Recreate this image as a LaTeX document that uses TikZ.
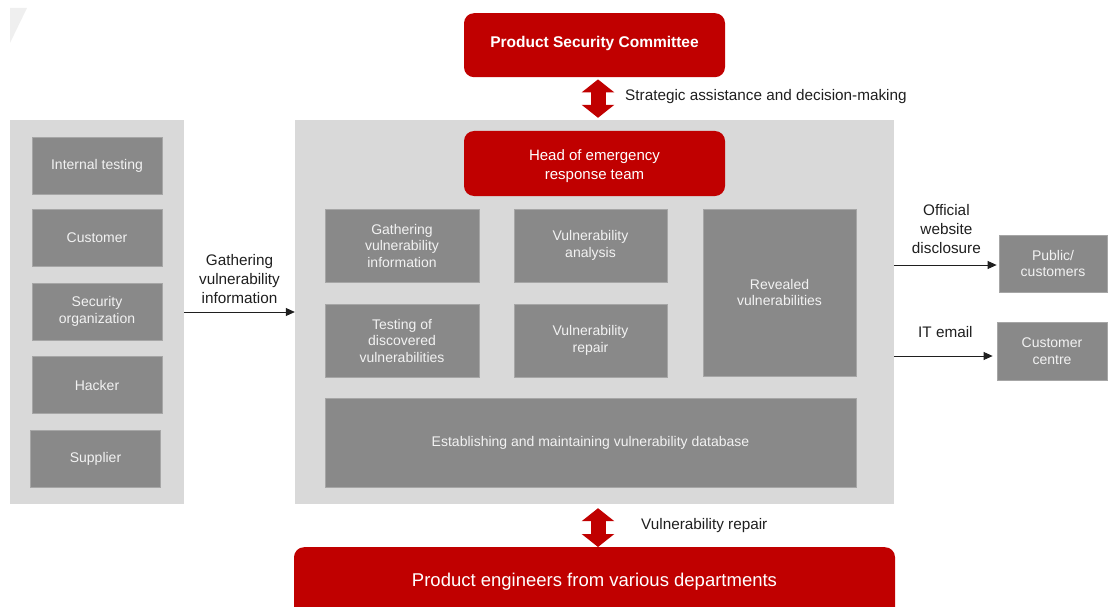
\documentclass[tikz,border=0pt]{standalone}
\usepackage{fontspec}
\setmainfont{Liberation Sans}
\usetikzlibrary{arrows.meta}

\definecolor{psred}{HTML}{C00000}
\definecolor{panelgray}{HTML}{D9D9D9}
\definecolor{boxgray}{HTML}{898989}
\definecolor{boxedge}{HTML}{A6A6A6}
\definecolor{boxtext}{HTML}{F2F2F2}
\definecolor{labeltext}{HTML}{1F1F1F}
\definecolor{ghost}{HTML}{EFEFEF}

\tikzset{
    redbox/.style={fill=psred, rounded corners=10pt, text=white, align=center, inner sep=0pt},
    graybox/.style={fill=boxgray, draw=boxedge, line width=0.8pt, text=boxtext, align=center, inner sep=0pt,
        font=\fontsize{14}{16.5}\selectfont},
    panel/.style={fill=panelgray, inner sep=0pt},
    lbl/.style={text=labeltext, align=center, inner sep=0pt, font=\fontsize{15.3}{18.8}\selectfont},
    flow/.style={-{Triangle[length=9pt, width=8pt]}, line width=0.8pt, labeltext},
    twoway/.style={psred, line width=15pt,
        {Triangle[length=13pt, width=32pt]}-{Triangle[length=13pt, width=32pt]}},
}

\begin{document}
\begin{tikzpicture}[x=1pt, y=-1pt]
    \useasboundingbox (0, 0) rectangle (1108, 607);
    \clip (0, 0) rectangle (1108, 607);

    % Corner mark
    \fill[ghost] (10, 8) -- (27, 8) -- (10, 43) -- cycle;

    % Panels
    \node[panel, minimum width=174, minimum height=384] (sources) at (97, 312) {};
    \node[panel, minimum width=599, minimum height=384] (core) at (594.5, 312) {};

    % Committee and team lead
    \node[redbox, anchor=north, minimum width=261, text height=34pt, text depth=30pt,
        font=\bfseries\fontsize{15.5}{19}\selectfont]
        (psc) at (594.5, 13) {Product Security Committee};
    \node[redbox, minimum width=261, minimum height=65, text height=36pt,
        font=\fontsize{15}{19}\selectfont]
        (lead) at (594.5, 163.5) {Head of emergency\\response team};

    % Sources of vulnerability information
    \foreach \x/\y/\name/\txt in {97/166/src1/{Internal testing}, 97/238/src2/Customer,
        97/311.5/src3/{Security\\organization}, 97/385/src4/Hacker, 95.5/458.5/src5/Supplier} {
        \node[graybox, minimum width=130, minimum height=57] (\name) at (\x, \y) {\txt};
    }

    % Tasks of the response team
    \node[graybox, minimum width=154, minimum height=73] (gather) at (402, 245.5)
        {Gathering\\vulnerability\\information};
    \node[graybox, minimum width=153, minimum height=73] (analysis) at (590.5, 245.5)
        {Vulnerability\\analysis};
    \node[graybox, minimum width=153, minimum height=167] (reveal) at (779.5, 292.5)
        {Revealed\\vulnerabilities};
    \node[graybox, minimum width=154, minimum height=73] (testing) at (402, 340.5)
        {Testing of\\discovered\\vulnerabilities};
    \node[graybox, minimum width=153, minimum height=73] (repair) at (590.5, 340.5)
        {Vulnerability\\repair};
    \node[graybox, minimum width=531, minimum height=89] (database) at (590.5, 442.5)
        {Establishing and maintaining vulnerability database};

    % Receivers of disclosures
    \node[graybox, minimum width=108, minimum height=57] (public) at (1053, 263.5)
        {Public/\\customers};
    \node[graybox, minimum width=110, minimum height=58] (centre) at (1052, 351)
        {Customer\\centre};

    % Engineers (runs off the bottom edge)
    \node[redbox, anchor=north, minimum width=601, text height=39.5pt, text depth=53.5pt,
        font=\fontsize{18.5}{22}\selectfont] (eng) at (594.5, 547)
        {Product engineers from various departments};

    % Two-way links
    \coordinate (axis) at (598, 0);
    \draw[twoway] ([yshift=-2pt]psc.south -| axis) -- ([yshift=2pt]core.north -| axis);
    \draw[twoway] ([yshift=-4pt]core.south -| axis) -- (eng.north -| axis);
    \node[lbl, anchor=west] (strat) at (625, 97) {Strategic assistance and decision-making};
    \node[lbl, anchor=west] (fixlbl) at (641, 526) {Vulnerability repair};

    % Flows
    \draw[flow] (sources) -- (core)
        node[lbl, midway, above=8pt] (gatherlbl) {Gathering\\vulnerability\\information};
    \draw[flow, shorten >=2pt] (core.east |- 0, 265) -- (public.west |- 0, 265)
        node[lbl, midway, above=11pt] (weblbl) {Official\\website\\disclosure};
    \draw[flow, shorten >=4pt] (core.east |- 0, 356) -- (centre.west |- 0, 356)
        node[lbl, midway, above=18pt] (maillbl) {IT email};
\end{tikzpicture}
\end{document}
